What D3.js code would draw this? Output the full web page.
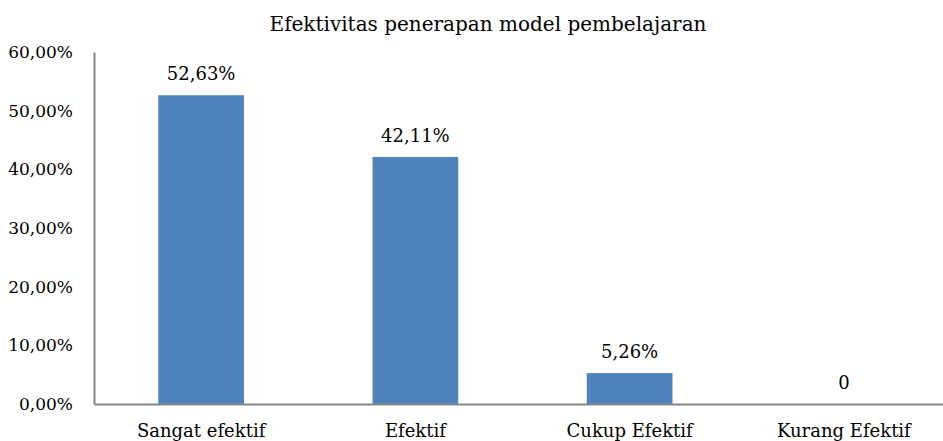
<!DOCTYPE html>
<html>
<head>
<meta charset="utf-8">
<script src="https://cdn.jsdelivr.net/npm/d3@7"></script>
<style>
  body { margin: 0; background: #fff; }
  text { font-family: "DejaVu Serif", "Liberation Serif", serif; fill: #000; }
</style>
</head>
<body>
<script>
// data
const categories = ['Sangat efektif', 'Efektif', 'Cukup Efektif', 'Kurang Efektif'];
const values = [52.63, 42.11, 5.26, 0];
const valueLabels = ['52,63%', '42,11%', '5,26%', '0'];
const yTicks = [0, 10, 20, 30, 40, 50, 60];

const width = 943, height = 441;
const margin = {top: 52, right: -8, bottom: 37, left: 94};

const svg = d3.select('body').append('svg')
  .attr('width', width)
  .attr('height', height);

// scales
const x = d3.scaleBand()
  .domain(categories)
  .range([margin.left, width - margin.right])
  .paddingInner(0.6)
  .paddingOuter(0.3);

const y = d3.scaleLinear()
  .domain([0, 60])
  .range([height - margin.bottom, margin.top]);

// title
svg.append('text')
  .attr('x', 488)
  .attr('y', 31)
  .attr('text-anchor', 'middle')
  .attr('font-size', 20)
  .text('Efektivitas penerapan model pembelajaran');

// bars
svg.append('g')
  .selectAll('rect')
  .data(values)
  .join('rect')
  .attr('x', (d, i) => x(categories[i]))
  .attr('y', d => y(d))
  .attr('width', x.bandwidth())
  .attr('height', d => y(0) - y(d))
  .attr('fill', '#4f81bd');

// value labels
svg.append('g')
  .selectAll('text')
  .data(values)
  .join('text')
  .attr('x', (d, i) => x(categories[i]) + x.bandwidth() / 2)
  .attr('y', d => y(d) - 15)
  .attr('text-anchor', 'middle')
  .attr('font-size', 18)
  .text((d, i) => valueLabels[i]);

// Y axis
const yAxis = d3.axisLeft(y)
  .tickValues(yTicks)
  .tickSize(0)
  .tickPadding(21)
  .tickFormat(d => d.toFixed(2).replace('.', ',') + '%');

const gy = svg.append('g')
  .attr('transform', `translate(${margin.left},0)`)
  .call(yAxis);
gy.select('.domain').attr('stroke', '#868686').attr('stroke-width', 2);
gy.selectAll('text').attr('font-size', 17).attr('font-family', null);

// X axis
const xAxis = d3.axisBottom(x).tickSize(0).tickPadding(20);
const gx = svg.append('g')
  .attr('transform', `translate(0,${y(0)})`)
  .call(xAxis);
gx.select('.domain').attr('stroke', '#868686').attr('stroke-width', 2);
gx.selectAll('text').attr('font-size', 18).attr('font-family', null);
</script>
</body>
</html>
